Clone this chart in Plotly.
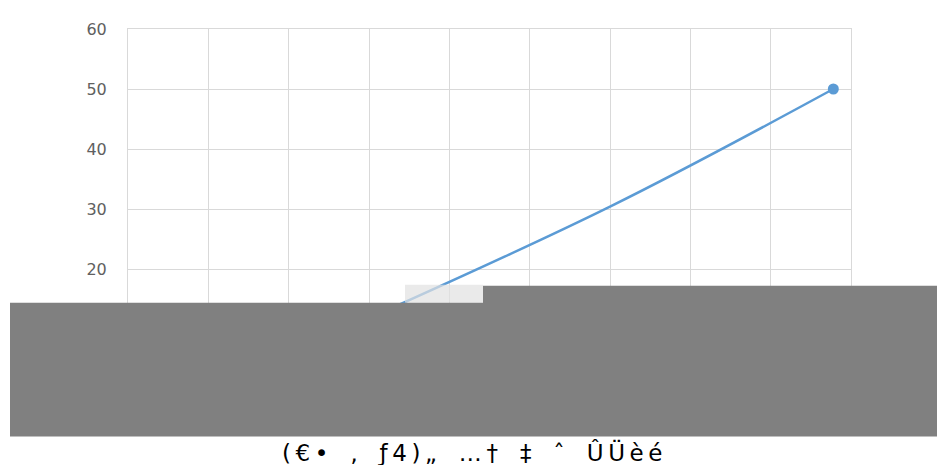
import plotly.graph_objects as go

# values (x in grid units, y on the 0-60 axis)
x_vals = [2.7, 6.0, 8.78]
y_vals = [10, 30.4, 50]
y_ticks = [0, 10, 20, 30, 40, 50, 60]
x_ticks = list(range(0, 10))
caption_groups = ["(€•", "‚", "ƒ4)„", "…†", "‡", "ˆ", "ÛÜèé"]

BLUE = "#5b9bd5"
GRID = "#d9d9d9"

# the page body has an 8px margin, so work in reference pixels and shift
OFF = 8
PL, PR, PT, PB = 128, 851, 26, 389   # plot area edges in reference pixels
PW, PH = PR - PL, PB - PT
FIG_W, FIG_H = 945 - OFF, 473 - 2 * OFF


def px_x(x):
    return (x - PL) / PW


def px_y(y):
    return (PB - y) / PH


# wide letter spacing like the reference caption
caption = "\u00a0\u00a0\u00a0".join("\u2009".join(g) for g in caption_groups)

fig = go.Figure()
fig.add_trace(go.Scatter(x=x_vals, y=y_vals, mode="lines",
                         line=dict(color=BLUE, width=2.5, shape="spline", smoothing=1.0),
                         hoverinfo="skip", showlegend=False))
fig.add_trace(go.Scatter(x=x_vals[-1:], y=y_vals[-1:], mode="markers",
                         marker=dict(color=BLUE, size=11),
                         showlegend=False))

fig.update_layout(
    width=FIG_W, height=FIG_H,
    margin=dict(l=PL - OFF, r=FIG_W - (PR - OFF), t=PT - OFF,
                b=FIG_H - (PB - OFF)),
    paper_bgcolor="white", plot_bgcolor="white",
    font=dict(family="DejaVu Sans", color="#606060", size=16),
    xaxis=dict(range=[0, 9], tickvals=x_ticks, showgrid=True, gridcolor=GRID,
               gridwidth=1, showline=True, linecolor=GRID, mirror=True,
               zeroline=False, ticks="", fixedrange=True),
    yaxis=dict(range=[0, 60], tickvals=y_ticks, showgrid=True, gridcolor=GRID,
               gridwidth=1, showline=True, linecolor=GRID, mirror=True,
               zeroline=False, ticks="", ticklabelstandoff=17, fixedrange=True),
    shapes=[
        # pale fragment where the line goes under the cover
        dict(type="rect", xref="paper", yref="paper", layer="above",
             x0=px_x(405), x1=px_x(483), y0=px_y(302), y1=px_y(284),
             fillcolor="rgba(225,225,225,0.7)", line=dict(width=0)),
        # grey covers
        dict(type="rect", xref="paper", yref="paper", layer="above",
             x0=px_x(10), x1=px_x(483), y0=px_y(437), y1=px_y(302),
             fillcolor="#808080", line=dict(width=0)),
        dict(type="rect", xref="paper", yref="paper", layer="above",
             x0=px_x(483), x1=px_x(960), y0=px_y(437), y1=px_y(285),
             fillcolor="#808080", line=dict(width=0)),
    ],
    annotations=[
        dict(text=caption, xref="paper", yref="paper",
             x=px_x(472), y=px_y(437), yanchor="top",
             xanchor="center", showarrow=False,
             font=dict(family="DejaVu Sans", size=23, color="#000000")),
    ],
)

fig.write_html("out.html")
